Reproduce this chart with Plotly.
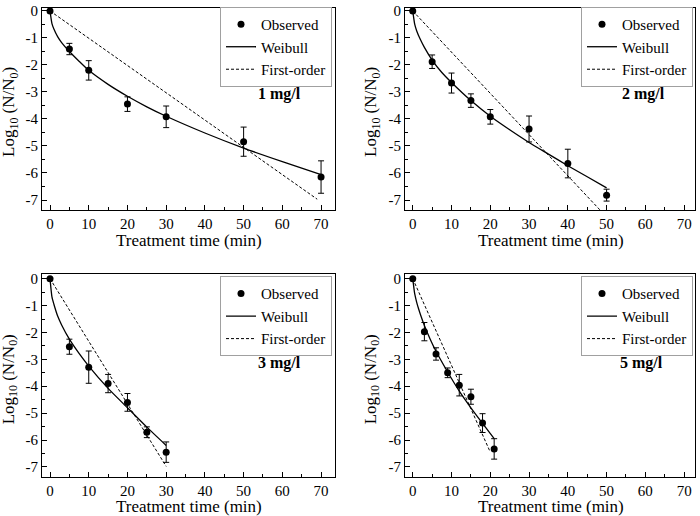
import plotly.graph_objects as go

# ---------------- data ----------------
conc_labels = ["1 mg/l", "2 mg/l", "3 mg/l", "5 mg/l"]

# Observed points
obs_t_1 = [0, 5, 10, 20, 30, 50, 70]
obs_y_1 = [0, -1.41, -2.2, -3.45, -3.92, -4.84, -6.15]
obs_e_1 = [0, 0.21, 0.36, 0.27, 0.40, 0.54, 0.60]

obs_t_2 = [0, 5, 10, 15, 20, 30, 40, 50]
obs_y_2 = [0, -1.88, -2.67, -3.32, -3.92, -4.37, -5.65, -6.82]
obs_e_2 = [0, 0.25, 0.37, 0.25, 0.27, 0.48, 0.53, 0.22]

obs_t_3 = [0, 5, 10, 15, 20, 25, 30]
obs_y_3 = [0, -2.53, -3.29, -3.9, -4.6, -5.71, -6.45]
obs_e_3 = [0, 0.28, 0.60, 0.34, 0.33, 0.20, 0.38]

obs_t_4 = [0, 3, 6, 9, 12, 15, 18, 21]
obs_y_4 = [0, -1.97, -2.8, -3.5, -3.96, -4.39, -5.37, -6.33]
obs_e_4 = [0, 0.34, 0.23, 0.18, 0.40, 0.28, 0.35, 0.38]

# Weibull curves
wb_t_1 = [0, 0.5, 1, 2, 3, 5, 7.5, 10, 15, 20, 25, 30, 40, 50, 60, 70]
wb_y_1 = [0, -0.47, -0.67, -0.96, -1.17, -1.5, -1.86, -2.2, -2.72, -3.16,
          -3.55, -3.9, -4.52, -5.08, -5.58, -6.06]

wb_t_2 = [0, 0.5, 1, 2, 3, 5, 7.5, 10, 15, 20, 25, 30, 35, 40, 45, 50]
wb_y_2 = [0, -0.49, -0.73, -1.07, -1.35, -1.82, -2.28, -2.65, -3.32, -3.9,
          -4.4, -4.87, -5.3, -5.73, -6.14, -6.55]

wb_t_3 = [0, 0.5, 1, 2, 3, 5, 7.5, 10, 15, 20, 25, 30]
wb_y_3 = [0, -0.68, -0.95, -1.4, -1.72, -2.25, -2.78, -3.25, -4.08, -4.8,
          -5.52, -6.2]

wb_t_4 = [0, 0.5, 1, 1.5, 2, 3, 4.5, 6, 9, 12, 15, 18, 21]
wb_y_4 = [0, -0.56, -0.87, -1.12, -1.34, -1.74, -2.25, -2.7, -3.47, -4.18,
          -4.8, -5.38, -5.95]

# First-order lines
fo_t_1 = [0, 69]
fo_y_1 = [0, -6.97]
fo_t_2 = [0, 50]
fo_y_2 = [0, -7.63]
fo_t_3 = [0, 30]
fo_y_3 = [0, -6.98]
fo_t_4 = [0, 20]
fo_y_4 = [0, -6.45]

x_ticks = [0, 10, 20, 30, 40, 50, 60, 70]
y_ticks = [0, -1, -2, -3, -4, -5, -6, -7]
y_tick_text = ["0", "-1", "-2", "-3", "-4", "-5", "-6", "-7"]

# ---------------- figure ----------------
FONT = "Liberation Serif, Times New Roman, serif"
fig = go.Figure()

panels = [
    (obs_t_1, obs_y_1, obs_e_1, wb_t_1, wb_y_1, fo_t_1, fo_y_1),
    (obs_t_2, obs_y_2, obs_e_2, wb_t_2, wb_y_2, fo_t_2, fo_y_2),
    (obs_t_3, obs_y_3, obs_e_3, wb_t_3, wb_y_3, fo_t_3, fo_y_3),
    (obs_t_4, obs_y_4, obs_e_4, wb_t_4, wb_y_4, fo_t_4, fo_y_4),
]

for i, (ot, oy, oe, wt, wy, ft, fy) in enumerate(panels):
    n = "" if i == 0 else str(i + 1)
    xa, ya = "x" + n, "y" + n
    lg = "legend" + n
    fig.add_trace(go.Scatter(
        x=ft, y=fy, mode="lines", name="First-order", legend=lg,
        line=dict(color="black", width=1, dash="3px,2px"),
        xaxis=xa, yaxis=ya, legendrank=3))
    fig.add_trace(go.Scatter(
        x=wt, y=wy, mode="lines", name="Weibull", legend=lg,
        line=dict(color="black", width=1.3, shape="spline", smoothing=0.6),
        xaxis=xa, yaxis=ya, legendrank=2))
    fig.add_trace(go.Scatter(
        x=ot, y=oy, mode="markers", name="Observed", legend=lg,
        marker=dict(color="black", size=7),
        error_y=dict(type="data", array=oe, color="black", thickness=1, width=3),
        xaxis=xa, yaxis=ya, legendrank=1))

W, H = 700, 516
xdom_l = [42 / W, 335 / W]
xdom_r = [405 / W, 695 / W]
ydom_t = [1 - 207 / H, 1 - 3 / H]
ydom_b = [1 - 476.5 / H, 1 - 272 / H]


def xaxis(dom, rng, anchor):
    return dict(domain=dom, range=rng, anchor=anchor, tickmode="array",
                tickvals=x_ticks, ticks="inside", ticklen=5, tickcolor="black",
                showline=True, linecolor="black", linewidth=1, mirror=True,
                showgrid=False, zeroline=False,
                tickfont=dict(family=FONT, size=15, color="black"),
                minor=dict(tickmode="linear", tick0=0, dtick=5, ticks="inside",
                           ticklen=3, tickcolor="black", showgrid=False))


def yaxis(dom, rng, anchor):
    return dict(domain=dom, range=rng, anchor=anchor, tickmode="array",
                tickvals=y_ticks, ticktext=y_tick_text, ticks="inside",
                ticklen=5, tickcolor="black",
                showline=True, linecolor="black", linewidth=1, mirror=True,
                showgrid=False, zeroline=False,
                tickfont=dict(family=FONT, size=15, color="black"),
                minor=dict(tickmode="linear", tick0=0, dtick=0.5, ticks="inside",
                           ticklen=3, tickcolor="black", showgrid=False))


def legend(x, y):
    return dict(x=x, y=y, xanchor="right", yanchor="top",
                bgcolor="white", bordercolor="#a0a0a0", borderwidth=1,
                font=dict(family=FONT, size=15, color="black"),
                tracegroupgap=0, traceorder="normal")


fig.update_layout(
    width=W, height=H, margin=dict(l=0, r=0, t=0, b=0),
    paper_bgcolor="white", plot_bgcolor="white",
    font=dict(family=FONT, color="black"),
    xaxis=xaxis(xdom_l, [-2.07, 73.6], "y"),
    yaxis=yaxis(ydom_t, [-7.37, 0.11], "x"),
    xaxis2=xaxis(xdom_r, [-2.0, 72.8], "y2"),
    yaxis2=yaxis(ydom_t, [-7.37, 0.11], "x2"),
    xaxis3=xaxis(xdom_l, [-2.07, 73.6], "y3"),
    yaxis3=yaxis(ydom_b, [-7.37, 0.16], "x3"),
    xaxis4=xaxis(xdom_r, [-2.0, 72.8], "y4"),
    yaxis4=yaxis(ydom_b, [-7.37, 0.16], "x4"),
    legend=legend(332 / W, 1 - 2 / H),
    legend2=legend(693 / W, 1 - 2 / H),
    legend3=legend(332 / W, 1 - 274 / H),
    legend4=legend(693 / W, 1 - 274 / H),
    showlegend=True,
)

annots = []
# concentration labels
conc_pos = [(279, 90), (643, 90), (279, 361), (641, 361)]
for lab, (px, py) in zip(conc_labels, conc_pos):
    annots.append(dict(text="<b>" + lab + "</b>", x=px / W, y=1 - py / H,
                       xref="paper", yref="paper", showarrow=False,
                       xanchor="center", yanchor="middle",
                       font=dict(family=FONT, size=16, color="black")))
# x-axis titles
for px, py in [(189, 238), (551, 238), (189, 506), (551, 506)]:
    annots.append(dict(text="Treatment time (min)", x=px / W, y=1 - py / H,
                       xref="paper", yref="paper", showarrow=False,
                       xanchor="center", yanchor="middle",
                       font=dict(family=FONT, size=17, color="black")))
# y-axis titles
for px, py in [(10, 108), (372, 108), (10, 378), (372, 378)]:
    annots.append(dict(text="Log<sub>10</sub> (N/N<sub>0</sub>)", x=px / W,
                       y=1 - py / H, xref="paper", yref="paper",
                       showarrow=False, textangle=-90,
                       xanchor="center", yanchor="middle",
                       font=dict(family=FONT, size=17, color="black")))
fig.update_layout(annotations=annots)

fig.write_html("out.html",
               config={"displayModeBar": False},
               post_script="document.body.style.margin='0';"
                           "document.body.style.padding='0';")
